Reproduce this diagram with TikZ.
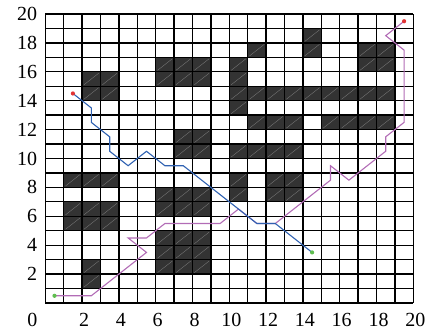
\documentclass[tikz,border=0pt]{standalone}
\usepackage{fontspec}
\setmainfont{Liberation Serif}
\usetikzlibrary{calc}
\definecolor{cellgray}{HTML}{333333}
\definecolor{diaggray}{HTML}{7A7A7A}
\definecolor{pathblue}{RGB}{48,98,178}
\definecolor{pathpurple}{RGB}{178,108,182}
\definecolor{dotred}{RGB}{226,52,52}
\definecolor{dotgreen}{RGB}{96,190,80}
\begin{document}
\begin{tikzpicture}[x=18.4pt,y=14.45pt,
  darkcell/.style={fill=cellgray},
  diagline/.style={draw=diaggray,line width=0.35pt},
  gridline/.style={draw=black,line width=1.3pt},
  route/.style={line width=1.1pt,line join=miter},
  enddot/.style={circle,inner sep=0pt,minimum size=4.2pt},
  ticklabel/.style={font=\fontsize{20}{21}\selectfont,inner sep=0pt}]
\useasboundingbox (-45.3pt,-33pt) rectangle (383.7pt,303pt);
% obstacle cells
\foreach \c/\r in {2/14,3/14,2/15,3/15,
  6/15,7/15,8/15,6/16,7/16,8/16,
  7/10,8/10,7/11,8/11,
  14/17,14/18,11/17,
  17/16,18/16,17/17,18/17,
  10/13,10/15,10/16,
  10/14,11/14,12/14,13/14,14/14,15/14,16/14,17/14,18/14,
  11/12,12/12,13/12,15/12,16/12,17/12,18/12,
  10/10,11/10,12/10,13/10,
  1/8,2/8,3/8,
  1/5,2/5,3/5,1/6,2/6,3/6,
  2/1,2/2,
  6/6,7/6,8/6,6/7,7/7,8/7,
  6/2,7/2,8/2,6/3,7/3,8/3,6/4,7/4,8/4,
  10/7,10/8,
  12/7,13/7,12/8,13/8}
{
  \fill[darkcell] (\c,\r) rectangle ++(1,1);
  \draw[diagline] ($(\c,\r)+(0.1,0.1)$) -- ($(\c,\r)+(0.9,0.9)$);
}
% grid
\foreach \i in {0,...,20} {
  \draw[gridline] (\i,0) -- (\i,20);
  \draw[gridline] (0,\i) -- (20,\i);
}
% purple route
\draw[route,pathpurple] (0.5,0.5) -- (2.5,0.5) -- (5.5,3.5) -- (4.5,4.5) -- (5.5,4.5)
  -- (6.5,5.5) -- (9.5,5.5) -- (10.5,6.5) -- (11.5,5.5) -- (12.5,5.5) -- (15.5,8.5)
  -- (15.5,9.5) -- (16.5,8.5) -- (18.5,10.5) -- (18.5,11.5) -- (19.5,12.5)
  -- (19.5,17.5) -- (18.5,18.5) -- (19.5,19.5);
% blue route
\draw[route,pathblue] (1.5,14.5) -- (2.5,13.5) -- (2.5,12.5) -- (3.5,11.5) -- (3.5,10.5)
  -- (4.5,9.5) -- (5.5,10.5) -- (6.5,9.5) -- (7.5,9.5) -- (11.5,5.5) -- (12.5,5.5)
  -- (14.5,3.5);
% end dots
\node[enddot,fill=dotred] (bstart) at (1.5,14.5) {};
\node[enddot,fill=dotgreen] (bgoal) at (14.5,3.5) {};
\node[enddot,fill=dotgreen] (pstart) at (0.5,0.5) {};
\node[enddot,fill=dotred] (pgoal) at (19.5,19.5) {};
% axis labels
\foreach \v in {2,4,...,20} {
  \node[ticklabel,anchor=east] (yl\v) at ([xshift=-8pt]0,\v) {\v};
  \node[ticklabel] (xl\v) at ([xshift=2pt,yshift=-17pt]\v,0) {\v};
}
\node[ticklabel] (origin) at (-13pt,-17pt) {0};
\end{tikzpicture}
\end{document}
